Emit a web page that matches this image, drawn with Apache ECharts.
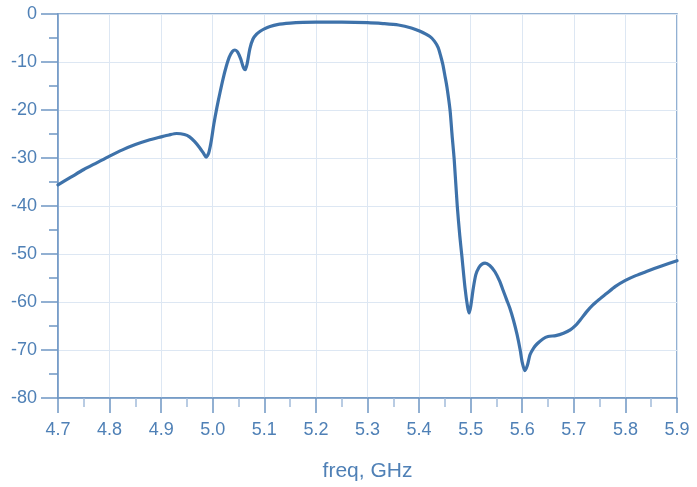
<!DOCTYPE html>
<html>
<head>
<meta charset="utf-8">
<script src="https://cdn.jsdelivr.net/npm/echarts@6/dist/echarts.min.js"></script>
<style>html,body{margin:0;padding:0;background:#fff}#c{width:697px;height:487px}</style>
</head>
<body>
<div id="c"></div>
<script>
const freq = [4.700,4.725,4.750,4.775,4.800,4.825,4.850,4.875,4.900,4.915,4.930,4.945,4.955,4.965,4.975,4.982,4.987,4.992,4.997,5.002,5.008,5.014,5.020,5.026,5.032,5.038,5.043,5.048,5.054,5.059,5.063,5.067,5.072,5.078,5.085,5.092,5.100,5.111,5.125,5.150,5.175,5.200,5.250,5.300,5.330,5.360,5.385,5.402,5.421,5.430,5.437,5.442,5.446,5.450,5.454,5.460,5.464,5.468,5.474,5.479,5.483,5.489,5.494,5.497,5.500,5.505,5.510,5.516,5.522,5.528,5.537,5.547,5.556,5.563,5.570,5.576,5.583,5.590,5.596,5.600,5.605,5.610,5.615,5.622,5.629,5.640,5.650,5.665,5.680,5.693,5.705,5.712,5.725,5.737,5.750,5.764,5.780,5.800,5.820,5.842,5.870,5.900];
const s21 = [-35.6,-34.0,-32.4,-31.0,-29.6,-28.3,-27.2,-26.3,-25.6,-25.2,-24.9,-25.1,-25.6,-26.6,-27.9,-29.0,-29.8,-29.0,-26.5,-23.0,-19.5,-16.4,-13.5,-11.0,-9.0,-7.8,-7.5,-7.9,-9.3,-11.0,-11.6,-10.2,-7.2,-5.2,-4.2,-3.6,-3.1,-2.6,-2.2,-1.9,-1.75,-1.7,-1.7,-1.8,-2.0,-2.3,-2.9,-3.6,-4.7,-5.7,-7.0,-8.8,-10.5,-12.8,-15.2,-20.0,-25.3,-30.2,-40.0,-46.3,-50.5,-57.0,-61.0,-62.3,-61.0,-57.2,-54.3,-52.8,-52.1,-51.9,-52.4,-53.7,-55.6,-57.6,-59.6,-61.3,-63.8,-66.8,-70.0,-72.6,-74.3,-73.2,-71.0,-69.6,-68.7,-67.7,-67.2,-67.0,-66.5,-65.8,-64.7,-63.8,-62.0,-60.6,-59.4,-58.2,-56.8,-55.5,-54.5,-53.6,-52.5,-51.4];
const xTitle = 'freq, GHz';

const axisColor = '#6f97c4';
const labelColor = '#4f80b6';
const gridColor = '#dde7f3';

const chart = echarts.init(document.getElementById('c'));
chart.setOption({
  animation: false,
  grid: { left: 58, right: 20, top: 14, bottom: 87, show: true, borderColor: axisColor, borderWidth: 1.5 },
  xAxis: {
    type: 'value', min: 4.7, max: 5.9, interval: 0.1,
    name: xTitle, nameLocation: 'middle', nameGap: 63,
    nameTextStyle: { color: labelColor, fontSize: 21, fontFamily: 'Liberation Sans' },
    axisLine: { show: true, onZero: false, lineStyle: { color: axisColor, width: 1.5 } },
    axisTick: { show: true, inside: false, length: 15, lineStyle: { color: axisColor, width: 1.5 } },
    minorTick: { show: true, splitNumber: 2, length: 9, lineStyle: { color: '#a3bcda', width: 1.5 } },
    splitLine: { show: true, lineStyle: { color: gridColor, width: 1 } },
    axisLabel: { color: labelColor, fontSize: 18, fontFamily: 'Liberation Sans', margin: 23,
      formatter: v => v.toFixed(1) }
  },
  yAxis: {
    type: 'value', min: -80, max: 0, interval: 10,
    axisLine: { show: true, onZero: false, lineStyle: { color: axisColor, width: 1.5 } },
    axisTick: { show: true, inside: false, length: 17, lineStyle: { color: axisColor, width: 1.5 } },
    minorTick: { show: true, splitNumber: 2, length: 9, lineStyle: { color: axisColor, width: 1.5 } },
    splitLine: { show: true, lineStyle: { color: gridColor, width: 1 } },
    axisLabel: { color: labelColor, fontSize: 18, fontFamily: 'Liberation Sans', margin: 21 }
  },
  series: [{
    type: 'line', showSymbol: false, smooth: 0.25,
    data: freq.map((f, i) => [f, s21[i]]),
    lineStyle: { color: '#3e72aa', width: 3.2, join: 'round', cap: 'round' }
  }]
});
</script>
</body>
</html>
